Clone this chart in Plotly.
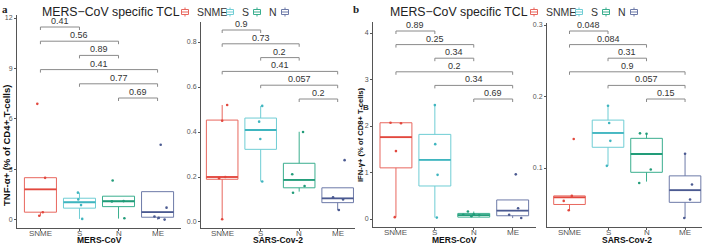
import plotly.graph_objects as go

W, H = 702, 246

categories = ["SNME", "S", "N", "ME"]
box_colors = ["#E8675E", "#6FCDD4", "#3AAE8E", "#6D7AA8"]
median_colors = ["#E2483E", "#3FB5BF", "#229C79", "#4B5A91"]
pairs = [(0, 1), (0, 2), (1, 2), (0, 3), (1, 3), (2, 3)]

# ---- panel a, MERS-CoV (TNF-a+ % of CD4+ T-cells)
a_mers_q1 = [0.46, 0.70, 0.79, 0.16]
a_mers_med = [1.82, 1.05, 1.11, 0.46]
a_mers_q3 = [2.51, 1.29, 1.41, 1.68]
a_mers_lo = [0.25, 0.06, 0.08, 0.02]
a_mers_hi = [2.51, 1.62, 1.41, 1.68]
a_mers_pts = [[6.9, 2.5, 0.46, 0.25], [1.62, 1.22, 0.88, 0.06],
              [2.34, 1.10, 1.12, 0.10], [4.47, 0.73, 0.20, 0.12, 0.02]]
a_mers_jit = [[-0.08, 0.12, 0.06, -0.03], [-0.04, -0.03, 0.04, 0.07],
              [-0.15, -0.17, 0.13, 0.15], [0.08, 0.23, -0.08, 0.03, 0.18]]
a_mers_p = ["0.41", "0.56", "0.89", "0.41", "0.77", "0.69"]

# ---- panel a, SARS-Cov-2
a_sars_q1 = [0.190, 0.323, 0.152, 0.086]
a_sars_med = [0.200, 0.409, 0.187, 0.105]
a_sars_q3 = [0.453, 0.462, 0.261, 0.152]
a_sars_lo = [0.012, 0.180, 0.135, 0.053]
a_sars_hi = [0.520, 0.516, 0.401, 0.152]
a_sars_pts = [[0.52, 0.45, 0.20, 0.195, 0.012], [0.516, 0.446, 0.369, 0.18],
              [0.40, 0.212, 0.16, 0.13], [0.275, 0.11, 0.10, 0.053]]
a_sars_jit = [[0.13, 0.0, 0.08, -0.08, 0.0], [0.04, -0.04, -0.01, 0.04],
              [0.10, -0.18, 0.14, -0.16], [0.18, -0.12, 0.14, 0.03]]
a_sars_p = ["0.9", "0.73", "0.2", "0.41", "0.057", "0.2"]

# ---- panel b, MERS-CoV (IFN-g+ % of CD8+ T-cells)
b_mers_q1 = [1.10, 0.71, 0.04, 0.07]
b_mers_med = [1.76, 1.27, 0.085, 0.18]
b_mers_q3 = [2.07, 1.82, 0.12, 0.41]
b_mers_lo = [0.04, 0.03, 0.04, 0.02]
b_mers_hi = [2.07, 2.45, 0.16, 0.41]
b_mers_pts = [[2.07, 2.06, 1.46, 0.04], [2.45, 1.61, 0.95, 0.03],
              [0.16, 0.10, 0.09, 0.08, 0.06], [0.96, 0.23, 0.09, 0.02]]
b_mers_jit = [[-0.14, 0.13, 0.0, -0.03], [0.0, 0.01, 0.07, 0.05],
              [-0.15, 0.0, -0.27, 0.14, -0.06], [0.08, 0.14, -0.09, 0.22]]
b_mers_p = ["0.89", "0.25", "0.34", "0.2", "0.34", "0.69"]

# ---- panel b, SARS-Cov-2
b_sars_q1 = [0.049, 0.129, 0.094, 0.052]
b_sars_med = [0.059, 0.149, 0.1196, 0.069]
b_sars_q3 = [0.061, 0.167, 0.1415, 0.089]
b_sars_lo = [0.041, 0.103, 0.081, 0.030]
b_sars_hi = [0.061, 0.188, 0.1485, 0.1205]
b_sars_pts = [[0.1405, 0.061, 0.054, 0.041], [0.187, 0.163, 0.138, 0.103],
              [0.1485, 0.148, 0.098, 0.079], [0.12, 0.077, 0.056, 0.03]]
b_sars_jit = [[0.11, 0.06, -0.15, -0.02], [0.0, 0.03, 0.06, -0.03],
              [-0.17, 0.0, 0.11, -0.19], [0.0, 0.18, 0.13, -0.02]]
b_sars_p = ["0.048", "0.084", "0.31", "0.9", "0.057", "0.15"]

y_ticks_a_mers = [0, 3, 6, 9, 12]
y_ticks_a_sars = [0.0, 0.2, 0.4, 0.6, 0.8]
y_ticks_b_mers = [0, 1, 2, 3, 4]
y_ticks_b_sars = [0.1, 0.2, 0.3]
y_ticktext_a_mers = ["0", "3", "6", "9", "12"]
y_ticktext_a_sars = ["0.0", "0.2", "0.4", "0.6", "0.8"]
y_ticktext_b_mers = ["0", "1", "2", "3", "4"]
y_ticktext_b_sars = ["0.1", "0.2", "0.3"]

# layout geometry (pixels)
panels = [
    dict(q1=a_mers_q1, med=a_mers_med, q3=a_mers_q3, lo=a_mers_lo, hi=a_mers_hi,
         pts=a_mers_pts, jit=a_mers_jit, p=a_mers_p, xt="MERS-CoV",
         tv=y_ticks_a_mers, tt=y_ticktext_a_mers,
         px=(17, 181), py=(15, 228), xr=(-0.6, 3.6), yr=(-0.48, 12.18),
         b0=27, bs=14.2, xtitle_c=99),
    dict(q1=a_sars_q1, med=a_sars_med, q3=a_sars_q3, lo=a_sars_lo, hi=a_sars_hi,
         pts=a_sars_pts, jit=a_sars_jit, p=a_sars_p, xt="SARS-Cov-2",
         tv=y_ticks_a_sars, tt=y_ticktext_a_sars,
         px=(201, 355), py=(22, 228), xr=(-0.55, 3.45), yr=(-0.0267, 0.889),
         b0=30, bs=13.8, xtitle_c=278),
    dict(q1=b_mers_q1, med=b_mers_med, q3=b_mers_q3, lo=b_mers_lo, hi=b_mers_hi,
         pts=b_mers_pts, jit=b_mers_jit, p=b_mers_p, xt="MERS-CoV",
         tv=y_ticks_b_mers, tt=y_ticktext_b_mers,
         px=(373, 536), py=(22, 227), xr=(-0.59, 3.6), yr=(-0.172, 4.237),
         b0=31, bs=13.6, xtitle_c=454),
    dict(q1=b_sars_q1, med=b_sars_med, q3=b_sars_q3, lo=b_sars_lo, hi=b_sars_hi,
         pts=b_sars_pts, jit=b_sars_jit, p=b_sars_p, xt="SARS-Cov-2",
         tv=y_ticks_b_sars, tt=y_ticktext_b_sars,
         px=(547, 702), py=(23, 227), xr=(-0.584, 3.44), yr=(0.0175, 0.3028),
         b0=31, bs=13.6, xtitle_c=627),
]


def fx(p):
    return p / W


def fy(p):
    return 1 - p / H


FONT = "Liberation Sans, Arial, sans-serif"
fig = go.Figure()
shapes, annotations = [], []
layout_axes = {}
BW = 0.82

for k, pn in enumerate(panels):
    sfx = "" if k == 0 else str(k + 1)
    xa, ya = "x" + sfx, "y" + sfx
    for i in range(4):
        fig.add_trace(go.Box(
            x=[i], q1=[pn["q1"][i]], median=[pn["med"][i]], q3=[pn["q3"][i]],
            lowerfence=[pn["lo"][i]], upperfence=[pn["hi"][i]],
            width=BW, whiskerwidth=0, boxpoints=False,
            line=dict(color=box_colors[i], width=1),
            fillcolor="rgba(255,255,255,0)", hoverinfo="skip",
            showlegend=False, xaxis=xa, yaxis=ya))
        fig.add_trace(go.Scatter(
            x=[i - BW / 2, i + BW / 2], y=[pn["med"][i], pn["med"][i]],
            mode="lines", line=dict(color=median_colors[i], width=1.8),
            hoverinfo="skip", showlegend=False, xaxis=xa, yaxis=ya))
        fig.add_trace(go.Scatter(
            x=[i + j for j in pn["jit"][i]], y=pn["pts"][i], mode="markers",
            marker=dict(size=2.6, color=median_colors[i]),
            hoverinfo="skip", showlegend=False, xaxis=xa, yaxis=ya))
        # category tick label (drawn as text just under the axis line)
        annotations.append(dict(
            text=categories[i], x=i, xref=xa, y=fy(pn["py"][1] + 5), yref="paper",
            xanchor="center", yanchor="middle", showarrow=False,
            font=dict(size=8, color="#555", family=FONT)))

    top, bot = pn["py"]
    layout_axes["xaxis" + sfx] = dict(
        domain=[fx(pn["px"][0]), fx(pn["px"][1])], range=list(pn["xr"]),
        anchor=ya, tickvals=[0, 1, 2, 3], showticklabels=False,
        showline=True, linecolor="#555", linewidth=1, ticks="outside",
        ticklen=2, tickcolor="#555",
        showgrid=False, zeroline=False, fixedrange=True)
    layout_axes["yaxis" + sfx] = dict(
        domain=[fy(bot), fy(top)], range=list(pn["yr"]), anchor=xa,
        tickvals=pn["tv"], ticktext=pn["tt"],
        showline=True, linecolor="#555", linewidth=1, ticks="outside",
        ticklen=2, tickcolor="#555", tickfont=dict(size=7, color="#555", family=FONT),
        showgrid=False, zeroline=False, fixedrange=True)

    # comparison brackets
    for n, (c0, c1) in enumerate(pairs):
        ypx = pn["b0"] + n * pn["bs"]
        yf = (bot - ypx) / (bot - top)
        tf = 3.0 / (bot - top)
        st = dict(color="#8a8a8a", width=1)
        shapes.append(dict(type="line", xref=xa, yref=ya + " domain",
                           x0=c0, x1=c1, y0=yf, y1=yf, line=st))
        shapes.append(dict(type="line", xref=xa, yref=ya + " domain",
                           x0=c0, x1=c0, y0=yf, y1=yf - tf, line=st))
        shapes.append(dict(type="line", xref=xa, yref=ya + " domain",
                           x0=c1, x1=c1, y0=yf, y1=yf - tf, line=st))
        annotations.append(dict(
            text=pn["p"][n], x=(c0 + c1) / 2, xref=xa, y=yf, yref=ya + " domain",
            xanchor="center", yanchor="bottom", showarrow=False, yshift=-1,
            font=dict(size=9, color="#333", family=FONT)))

    annotations.append(dict(
        text="<b>" + pn["xt"] + "</b>", x=fx(pn["xtitle_c"]), y=fy(239.5),
        xref="paper", yref="paper", xanchor="center", yanchor="middle",
        showarrow=False, font=dict(size=8.5, color="#111", family=FONT)))

annotations += [
    dict(text="<b>a</b>", x=fx(5), y=fy(9), xref="paper", yref="paper",
         xanchor="center", yanchor="middle", showarrow=False,
         font=dict(size=11, color="#222", family="Liberation Serif, serif")),
    dict(text="<b>b</b>", x=fx(356), y=fy(9), xref="paper", yref="paper",
         xanchor="center", yanchor="middle", showarrow=False,
         font=dict(size=11, color="#222", family="Liberation Serif, serif")),
    dict(text="MERS\u2212CoV specific TCL", x=fx(111), y=fy(12.5), xref="paper",
         yref="paper", xanchor="center", yanchor="middle", showarrow=False,
         font=dict(size=12.3, color="#222", family=FONT)),
    dict(text="MERS\u2212CoV specific TCL", x=fx(459), y=fy(12.5), xref="paper",
         yref="paper", xanchor="center", yanchor="middle", showarrow=False,
         font=dict(size=12.3, color="#222", family=FONT)),
    dict(text="<b>TNF-\u03b1+ (% of CD4+ T-cells)</b>", x=fx(6), y=fy(146),
         xref="paper", yref="paper", xanchor="center", yanchor="middle",
         textangle=-90, showarrow=False,
         font=dict(size=9.5, color="#111", family=FONT)),
    dict(text="<b>IFN-\u03b3+ (% of CD8+ T-cells)</b>", x=fx(360), y=fy(134),
         xref="paper", yref="paper", xanchor="center", yanchor="middle",
         textangle=-90, showarrow=False,
         font=dict(size=7.6, color="#111", family=FONT)),
    dict(text="<b>B</b>", x=fx(366), y=fy(107), xref="paper", yref="paper",
         xanchor="center", yanchor="middle", showarrow=False,
         font=dict(size=8, color="#333", family=FONT)),
]

# legends (one per figure panel)
icon_offsets = [0, 45, 72, 100]
legend_labels = ["SNME", "S", "N", ""]
for base in [185, 534]:
    for i, off in enumerate(icon_offsets):
        cx = base + off
        cy = 12
        shapes.append(dict(type="rect", xref="paper", yref="paper",
                           x0=fx(cx - 3.5), x1=fx(cx + 3.5), y0=fy(cy + 2.5), y1=fy(cy - 2.5),
                           line=dict(color=box_colors[i], width=1), fillcolor="white"))
        shapes.append(dict(type="line", xref="paper", yref="paper",
                           x0=fx(cx - 3.5), x1=fx(cx + 3.5), y0=fy(cy), y1=fy(cy),
                           line=dict(color=box_colors[i], width=1)))
        shapes.append(dict(type="line", xref="paper", yref="paper",
                           x0=fx(cx), x1=fx(cx), y0=fy(cy - 2.5), y1=fy(cy - 4.5),
                           line=dict(color=box_colors[i], width=1)))
        shapes.append(dict(type="line", xref="paper", yref="paper",
                           x0=fx(cx), x1=fx(cx), y0=fy(cy + 2.5), y1=fy(cy + 4.5),
                           line=dict(color=box_colors[i], width=1)))
        if legend_labels[i]:
            annotations.append(dict(
                text=legend_labels[i], x=fx(cx + 10), y=fy(cy), xref="paper",
                yref="paper", xanchor="left", yanchor="middle", showarrow=False,
                font=dict(size=10.5, color="#333", family=FONT)))

fig.update_layout(
    width=W, height=H, margin=dict(l=0, r=0, t=0, b=0, autoexpand=False),
    paper_bgcolor="white", plot_bgcolor="white", boxmode="overlay",
    showlegend=False, shapes=shapes, annotations=annotations,
    font=dict(family=FONT), **layout_axes)

fig.write_html(
    "out.html",
    config={"displayModeBar": False},
    post_script="document.body.style.margin='0';document.body.style.overflow='hidden';",
)
